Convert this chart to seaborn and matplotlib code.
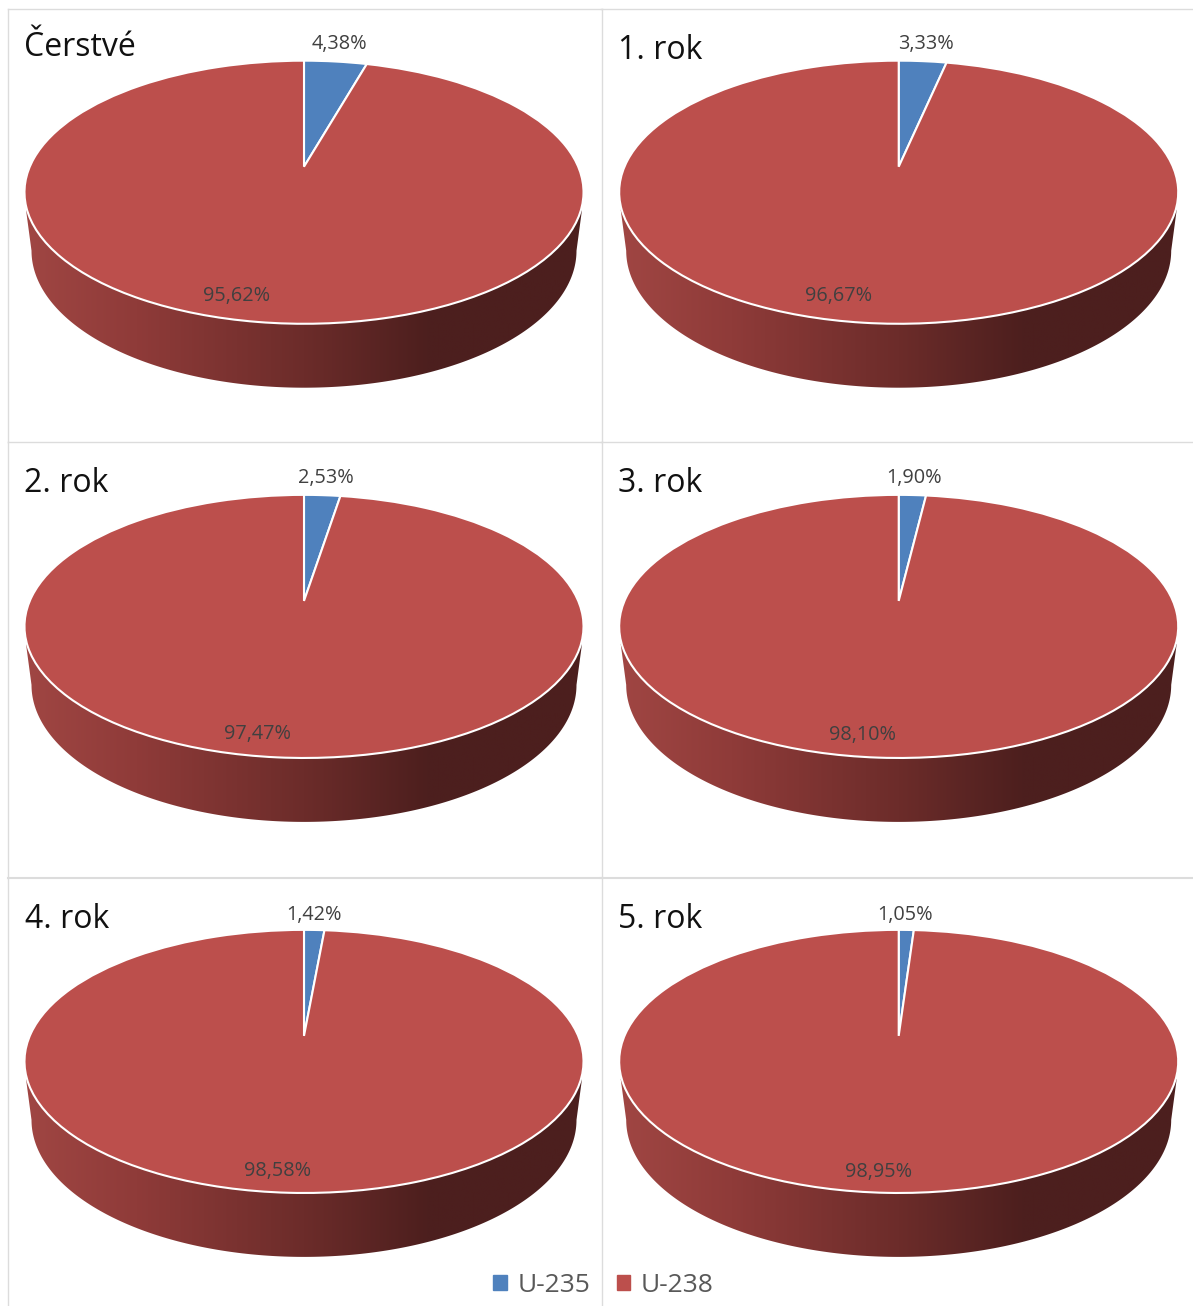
import numpy as np
import matplotlib
matplotlib.use("Agg")
import matplotlib.pyplot as plt
import seaborn as sns
from matplotlib.colors import LinearSegmentedColormap
from matplotlib.patches import Patch, PathPatch
from matplotlib.path import Path
from matplotlib.transforms import Transform

# ---- data ----
panel_titles = ["Čerstvé", "1. rok", "2. rok", "3. rok", "4. rok", "5. rok"]
isotopes = ["U-235", "U-238"]
u235_share = [4.38, 3.33, 2.53, 1.90, 1.42, 1.05]
u238_share = [95.62, 96.67, 97.47, 98.10, 98.58, 98.95]

# ---- layout (reference pixels) ----
W, H = 1193, 1306
col_edges = [8, 601.5, 1193]
row_edges = [8.5, 442, 878, 1306]
col_cx = [304, 898.7]
row_tip = [166.7, 600.9, 1035.9]
title_xy = [(24, 56), (618, 59), (24, 492), (618, 492), (25, 928), (618, 928)]
small_xy = [(339.5, 44), (926, 44), (326, 478), (914, 478), (314, 915), (905, 915)]
big_xy = [(236.5, 295.5), (838.5, 296.5), (257.5, 734), (862.5, 735), (277.5, 1171), (878.5, 1172)]

BLUE, RED = sns.color_palette(["#4f81bd", "#bc4f4c"])
GRID = "#dcdcdc"
TEXT = "#404040"

sns.set_theme(style="white")
plt.rcParams["font.family"] = ["Open Sans", "DejaVu Sans"]

wall_cmap = LinearSegmentedColormap.from_list(
    "wall",
    [(0.0, "#a04643"), (0.2, "#8f3b39"), (0.5, "#6c2c2a"), (0.72, "#4d1f1e"), (1.0, "#4c1f1e")],
)


class TiltedDisc(Transform):
    """Perspective view of the unit disc, as seen in the 3-D pie."""
    input_dims = output_dims = 2
    is_separable = False
    has_inverse = False
    K = 0.194
    A = 274.2
    B = 126.6

    def __init__(self, cx, tip_y):
        super().__init__()
        self.cx, self.tip_y = cx, tip_y

    def transform_non_affine(self, values):
        values = np.asarray(values, float)
        d = 1 + self.K * values[:, 1]
        return np.column_stack(
            [self.cx + self.A * values[:, 0] / d, self.tip_y - self.B * values[:, 1] / d]
        )


def wall_path(cx, tip_y):
    centre = tip_y + 25
    t = np.linspace(np.pi, 2 * np.pi, 200)
    low = np.column_stack(
        [cx + 272.5 * np.cos(t), centre + 59 + 137 * np.abs(np.sin(t))]
    )
    pts = np.vstack([[cx - 278, centre + 18], low, [cx + 278, centre + 18], [cx - 278, centre + 18]])
    return Path(pts, closed=True)


fig = plt.figure(figsize=(W / 100, H / 100), dpi=100, facecolor="white")

for i, title in enumerate(panel_titles):
    r, c = divmod(i, 2)
    x0, x1 = col_edges[c], col_edges[c + 1]
    y0, y1 = row_edges[r], row_edges[r + 1]
    ax = fig.add_axes([x0 / W, 1 - y1 / H, (x1 - x0) / W, (y1 - y0) / H])
    cx, tip_y = col_cx[c], row_tip[r]

    wedges, _ = ax.pie(
        [u235_share[i], u238_share[i]],
        colors=[BLUE, RED],
        startangle=90,
        counterclock=False,
        wedgeprops=dict(edgecolor="white", linewidth=1.5, zorder=3),
    )
    disc = TiltedDisc(cx, tip_y)
    for w in wedges:
        w.set_transform(disc + ax.transData)

    grad = np.linspace(0, 1, 256).reshape(1, -1)
    img = ax.imshow(
        grad, cmap=wall_cmap, aspect="auto", zorder=1,
        extent=(cx - 280, cx + 280, tip_y + 230, tip_y),
    )
    img.set_clip_path(PathPatch(wall_path(cx, tip_y), transform=ax.transData))

    ax.set_aspect("auto")
    ax.set_xlim(x0, x1)
    ax.set_ylim(y1, y0)
    ax.set_xticks([])
    ax.set_yticks([])
    ax.set_frame_on(True)
    for name, sp in ax.spines.items():
        sp.set_color(GRID)
        sp.set_linewidth(1.5 if (name == "top" and r == 2) else 1.0)
        sp.set_visible(name in ("left", "top"))

    tx, ty = title_xy[i]
    ax.text(tx, ty, title, fontsize=23, color="#111111", ha="left", va="baseline", zorder=5)
    sx, sy = small_xy[i]
    ax.text(sx, sy, f"{u235_share[i]:.2f}%".replace(".", ","), fontsize=14.3, color=TEXT,
            ha="center", va="center", zorder=5)
    bx, by = big_xy[i]
    ax.text(bx, by, f"{u238_share[i]:.2f}%".replace(".", ","), fontsize=14.3, color=TEXT,
            ha="center", va="center", zorder=5)

fig.legend(
    handles=[Patch(color=BLUE), Patch(color=RED)],
    labels=isotopes,
    loc="center",
    bbox_to_anchor=(603.5 / W, 1 - 1285.5 / H),
    ncol=2,
    frameon=False,
    fontsize=19,
    labelcolor="#595959",
    handlelength=0.52,
    handleheight=0.52,
    handletextpad=0.4,
    columnspacing=1.0,
    borderpad=0,
)

fig.savefig("out.png", dpi=100)
